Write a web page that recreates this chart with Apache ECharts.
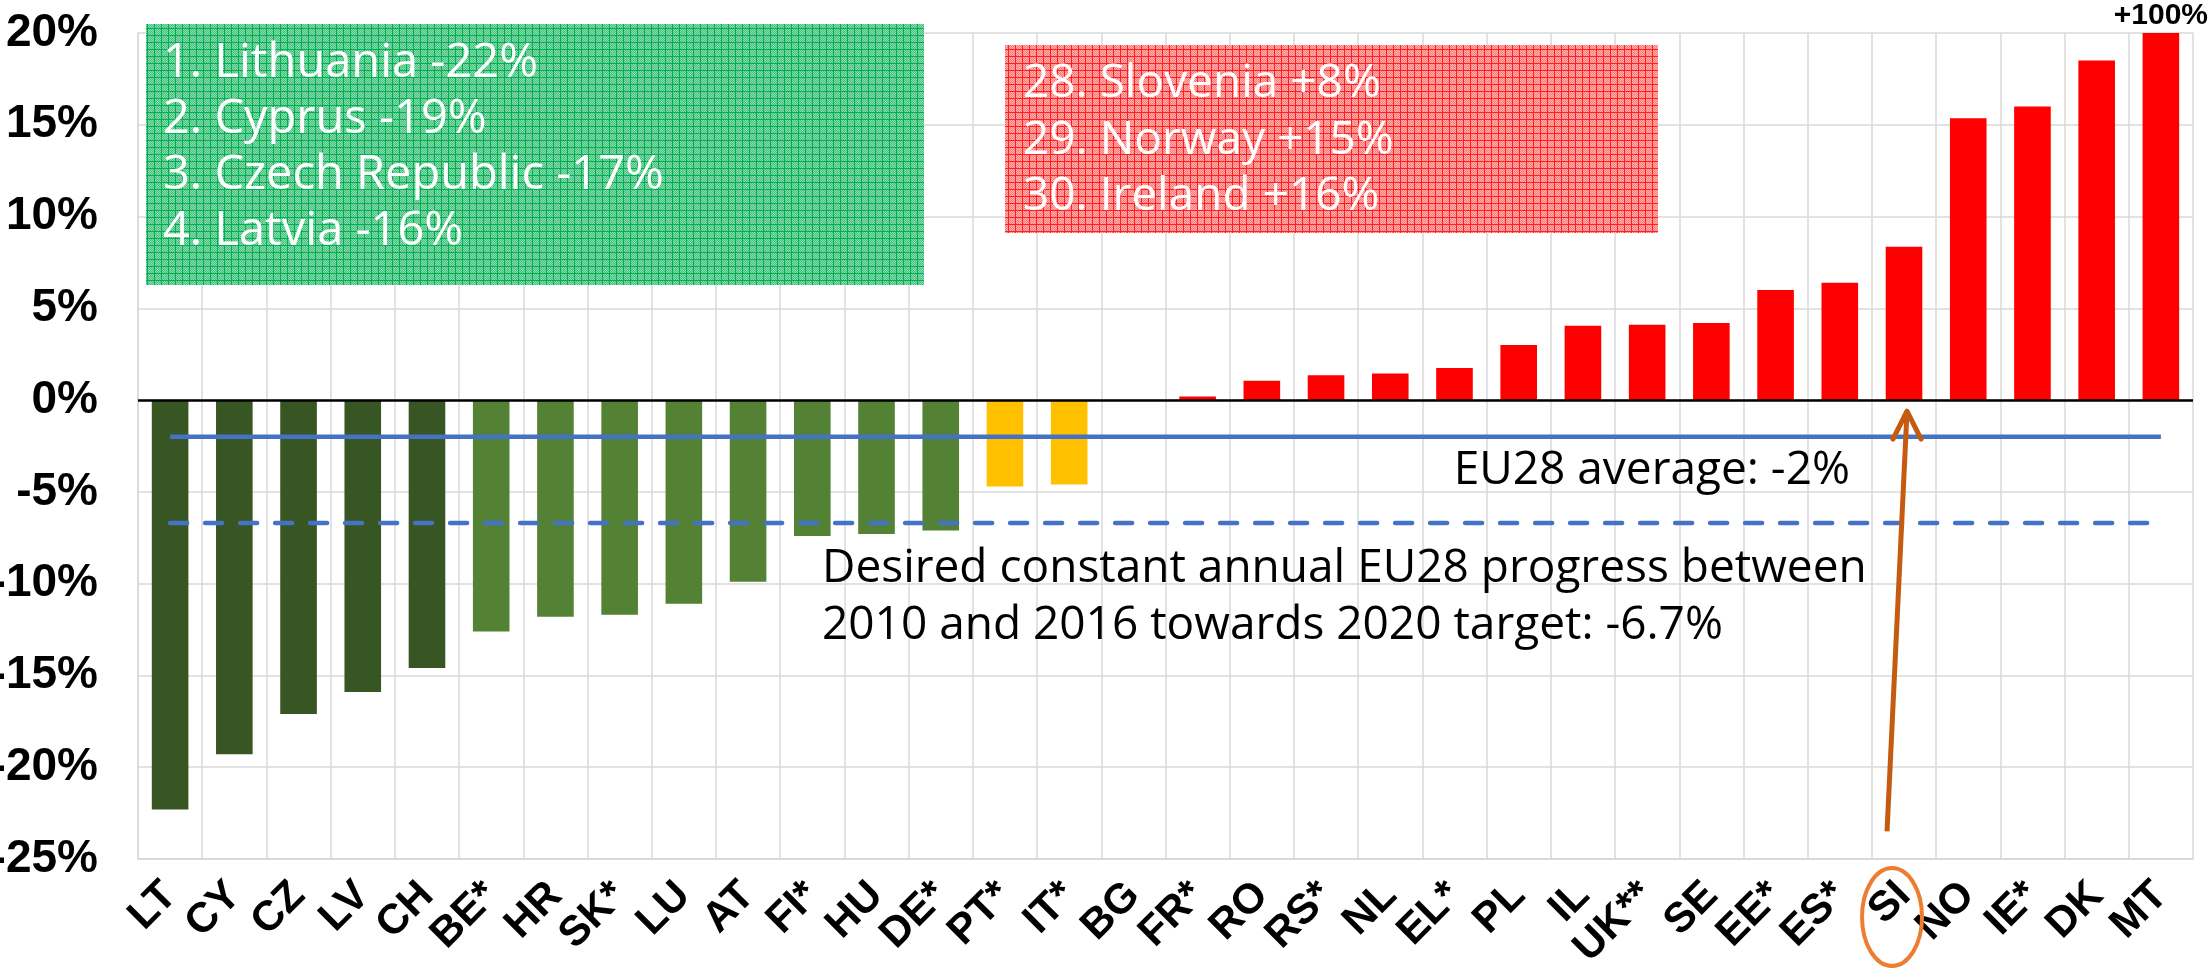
<!DOCTYPE html>
<html>
<head>
<meta charset="utf-8">
<script src="https://cdn.jsdelivr.net/npm/echarts@6/dist/echarts.min.js"></script>
<style>
  html, body { margin: 0; padding: 0; background: #fff; }
  #chart { width: 2212px; height: 970px; }
</style>
</head>
<body>
<div id="chart"></div>
<script>
// country codes, in chart order
const countries = ["LT", "CY", "CZ", "LV", "CH", "BE*", "HR", "SK*", "LU", "AT", "FI*", "HU", "DE*", "PT*", "IT*", "BG",
  "FR*", "RO", "RS*", "NL", "EL*", "PL", "IL", "UK**", "SE", "EE*", "ES*", "SI", "NO", "IE*", "DK", "MT"];
// annual change in % (MT is +100%, off the scale)
const change = [-22.3, -19.3, -17.1, -15.9, -14.6, -12.6, -11.8, -11.7, -11.1, -9.9, -7.4, -7.3, -7.1, -4.7, -4.6, 0,
  0.2, 1.05, 1.35, 1.45, 1.75, 3.0, 4.05, 4.1, 4.2, 6.0, 6.4, 8.35, 15.35, 16.0, 18.5, 100];
// colour group of each bar
const groups = ["best", "best", "best", "best", "best", "good", "good", "good", "good", "good", "good", "good", "good", "mid", "mid", "bad",
  "bad", "bad", "bad", "bad", "bad", "bad", "bad", "bad", "bad", "bad", "bad", "bad", "bad", "bad", "bad", "bad"];
const eu28Average = -2;
const desiredProgress = -6.7;
const yMin = -25, yMax = 20, yStep = 5;
const bestList = ["1. Lithuania -22%", "2. Cyprus -19%", "3. Czech Republic -17%", "4. Latvia -16%"];
const worstList = ["28. Slovenia +8%", "29. Norway +15%", "30. Ireland +16%"];
const avgLabel = "EU28 average: -2%";
const desiredLabel = ["Desired constant annual EU28 progress between", "2010 and 2016 towards 2020 target: -6.7%"];
const highlighted = "SI";

const groupColor = { best: "#375623", good: "#548235", mid: "#FFC000", bad: "#FF0000" };

function gridPattern(line, a, b) {
  const c = document.createElement("canvas");
  c.width = 7; c.height = 7;
  const ctx = c.getContext("2d");
  for (let y = 0; y < 7; y++) {
    for (let x = 0; x < 7; x++) {
      ctx.fillStyle = (x === 0 || y === 0) ? line : ((x + y) % 2 ? a : b);
      ctx.fillRect(x, y, 1, 1);
    }
  }
  return { image: c, repeat: "repeat" };
}

const chart = echarts.init(document.getElementById("chart"));
const textFont = "'Open Sans', 'Noto Sans', sans-serif";
const axisFont = "'Liberation Sans', Arial, sans-serif";

const barData = change.map((v, i) => {
  const item = { value: v, itemStyle: { color: groupColor[groups[i]] } };
  if (v > yMax) {
    item.label = {
      show: true, position: "top", distance: 2,
      formatter: "+" + v + "%",
      fontFamily: axisFont, fontWeight: "bold", fontSize: 30, color: "#000"
    };
  }
  return item;
});

const options = {
  animation: false,
  backgroundColor: "#fff",
  grid: { left: 138, right: 19, top: 33, bottom: 111, outerBoundsMode: "none", containLabel: false },
  xAxis: {
    type: "category",
    data: countries,
    axisLine: { onZero: false, lineStyle: { color: "#D9D9D9", width: 2 } },
    axisTick: { show: false },
    splitLine: { show: true, lineStyle: { color: "#D9D9D9", width: 1.5 } },
    axisLabel: {
      interval: 0, rotate: 45, margin: 30,
      fontFamily: axisFont, fontWeight: "bold", fontSize: 42, color: "#000"
    }
  },
  yAxis: {
    type: "value",
    min: yMin, max: yMax, interval: yStep,
    axisLine: { show: true, lineStyle: { color: "#D9D9D9", width: 1.5 } },
    splitLine: { lineStyle: { color: "#D9D9D9", width: 1.5 } },
    axisLabel: {
      formatter: "{value}%", margin: 40,
      fontFamily: axisFont, fontWeight: "bold", fontSize: 46, color: "#000"
    }
  },
  series: [
    {
      type: "bar",
      data: barData,
      barWidth: "57%",
      clip: true,
      z: 2,
      markLine: {
        silent: true, symbol: "none", label: { show: false },
        lineStyle: { color: "#000", width: 2.5, type: "solid" },
        data: [{ yAxis: 0 }]
      }
    },
    {
      type: "line",
      data: countries.map(() => eu28Average),
      symbol: "none",
      lineStyle: { color: "#4472C4", width: 4.5 },
      z: 3
    },
    {
      type: "line",
      data: countries.map(() => desiredProgress),
      symbol: "none",
      lineStyle: { color: "#4472C4", width: 4.5, type: [17, 18], cap: "round" },
      z: 3
    }
  ]
};

chart.setOption(options);

// annotations
const tip = chart.convertToPixel({ xAxisIndex: 0, yAxisIndex: 0 }, [highlighted, -0.6]);
const tail = chart.convertToPixel({ xAxisIndex: 0, yAxisIndex: 0 }, [highlighted, -23.5]);
const tipX = tip[0] + 3, tailX = tail[0] - 17;

chart.setOption({
  graphic: [
    {
      type: "rect", z: 10,
      shape: { x: 146, y: 24, width: 778, height: 261 },
      style: { fill: gridPattern("#00B050", "#45c280", "#8cdab0") }
    },
    {
      type: "text", z: 11, x: 163, y: 36,
      style: { text: bestList.join("\n"), fill: "#fff", font: "47px " + textFont, lineHeight: 56, verticalAlign: "top" }
    },
    {
      type: "rect", z: 10,
      shape: { x: 1005, y: 45, width: 653, height: 188 },
      style: { fill: gridPattern("#ff1f1f", "#ff7777", "#ffb3b3") }
    },
    {
      type: "text", z: 11, x: 1023, y: 56,
      style: { text: worstList.join("\n"), fill: "#fff", font: "46px " + textFont, lineHeight: 56.5, verticalAlign: "top" }
    },
    {
      type: "text", z: 11, x: 1850, y: 443,
      style: { text: avgLabel, fill: "#000", font: "46px " + textFont, lineHeight: 56, verticalAlign: "top", align: "right" }
    },
    {
      type: "text", z: 11, x: 822, y: 540,
      style: { text: desiredLabel.join("\n"), fill: "#000", font: "46px " + textFont, lineHeight: 57, verticalAlign: "top" }
    },
    {
      type: "line", z: 12,
      shape: { x1: tailX, y1: tail[1], x2: tipX, y2: tip[1] },
      style: { stroke: "#C55A11", lineWidth: 5 }
    },
    {
      type: "polyline", z: 12,
      shape: { points: [[tipX - 14, tip[1] + 28], [tipX, tip[1]], [tipX + 14, tip[1] + 28]] },
      style: { stroke: "#C55A11", lineWidth: 5, fill: null, lineJoin: "round", lineCap: "round" }
    },
    {
      type: "ellipse", z: 12,
      shape: { cx: tip[0] - 12, cy: 917, rx: 30, ry: 49 },
      style: { stroke: "#ED7D31", lineWidth: 4, fill: null }
    }
  ]
});
</script>
</body>
</html>
